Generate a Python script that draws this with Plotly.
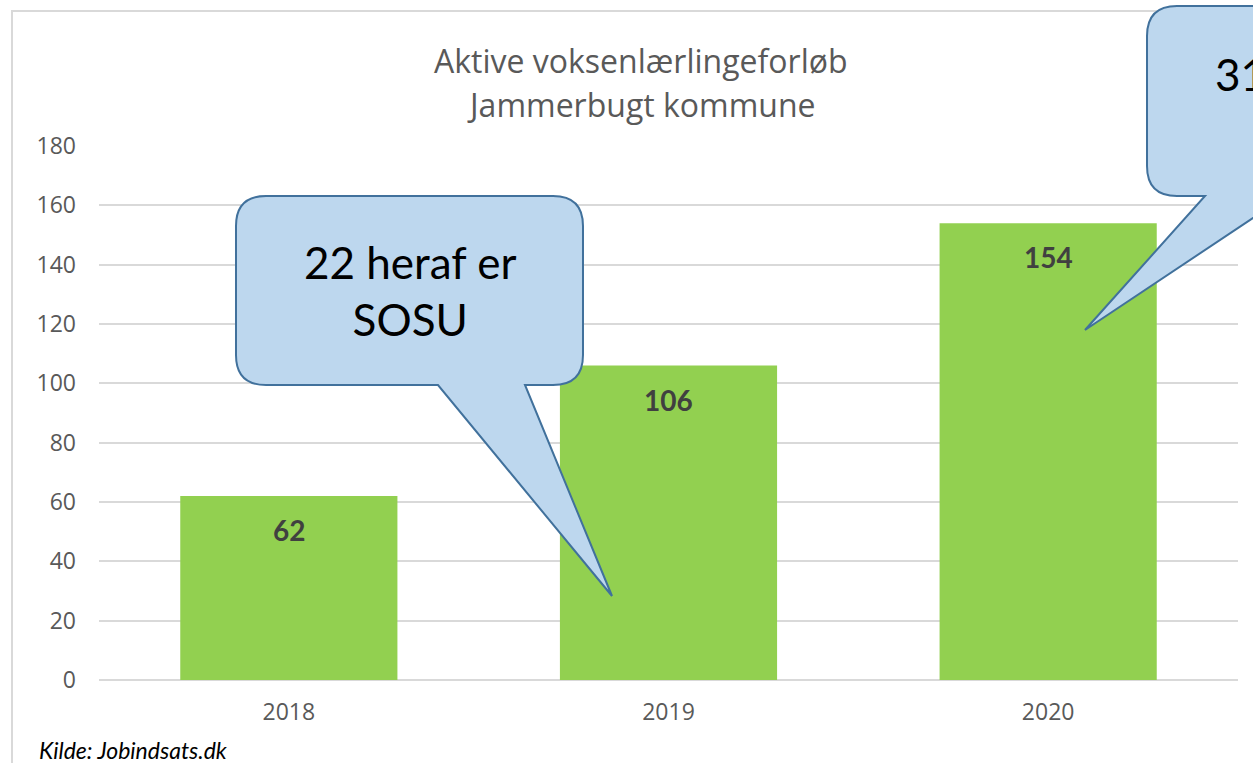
import plotly.graph_objects as go

years = ["2018", "2019", "2020"]
values = [62, 106, 154]
y_ticks = [0, 20, 40, 60, 80, 100, 120, 140, 160, 180]
title_lines = ["Aktive voksenlærlingeforløb", "Jammerbugt kommune"]
callout_texts = ["22 heraf er<br>SOSU", "31 heraf er"]
source_text = "Kilde: Jobindsats.dk"

W, H = 1253, 763
L, R, T, B = 99, 1238, 146, 680
FONT = "Lato"
TFONT = "Open Sans"


def px(x):
    return (x - L) / (R - L)


def py(y):
    return (B - y) / (B - T)


def path(points_cmds):
    out = []
    for cmd, pts in points_cmds:
        coords = " ".join(f"{px(x):.5f},{py(y):.5f}" for x, y in pts)
        out.append(f"{cmd} {coords}")
    return " ".join(out) + " Z"


fig = go.Figure()
fig.add_trace(go.Bar(
    x=years, y=values, marker=dict(color="#92d050", line=dict(width=0)),
    width=0.572, hoverinfo="skip",
))

# data labels
for i, v in enumerate(values):
    fig.add_annotation(x=i, y=v, xref="x", yref="y", text=f"<b>{v}</b>",
                       showarrow=False, yshift=-34, xanchor="center", yanchor="middle",
                       font=dict(family=FONT, size=28, color="#404040"))

# chart border
fig.add_shape(type="rect", xref="paper", yref="paper",
              x0=px(12), x1=px(1400), y0=py(11), y1=py(900),
              line=dict(color="#d9d9d9", width=2), fillcolor="rgba(0,0,0,0)", layer="below")

# callout 1
r = 30
x0, x1, y0, y1 = 236, 583, 196, 385
p1 = path([
    ("M", [(x0 + r, y0)]), ("L", [(x1 - r, y0)]), ("Q", [(x1, y0), (x1, y0 + r)]),
    ("L", [(x1, y1 - r)]), ("Q", [(x1, y1), (x1 - r, y1)]),
    ("L", [(525, y1)]), ("L", [(612, 596)]), ("L", [(438, y1)]),
    ("L", [(x0 + r, y1)]), ("Q", [(x0, y1), (x0, y1 - r)]),
    ("L", [(x0, y0 + r)]), ("Q", [(x0, y0), (x0 + r, y0)]),
])
fig.add_shape(type="path", path=p1, xref="paper", yref="paper",
              fillcolor="#bdd7ee", line=dict(color="#41719c", width=2))

# callout 2
x0, x1, y0, y1 = 1147, 1500, 6, 196
p2 = path([
    ("M", [(x0 + r, y0)]), ("L", [(x1, y0)]), ("L", [(x1, y1)]),
    ("L", [(1286, y1)]), ("L", [(1085, 330)]), ("L", [(1205, y1)]),
    ("L", [(x0 + r, y1)]), ("Q", [(x0, y1), (x0, y1 - r)]),
    ("L", [(x0, y0 + r)]), ("Q", [(x0, y0), (x0 + r, y0)]),
])
fig.add_shape(type="path", path=p2, xref="paper", yref="paper",
              fillcolor="#bdd7ee", line=dict(color="#41719c", width=2))

fig.add_annotation(x=px(410), y=py(290), xref="paper", yref="paper",
                   text=callout_texts[0], showarrow=False, align="center",
                   xanchor="center", yanchor="middle",
                   font=dict(family=FONT, size=44, color="#000000"))
fig.add_annotation(x=px(1213), y=py(74), xref="paper", yref="paper",
                   text=callout_texts[1], showarrow=False, xanchor="left",
                   yanchor="middle",
                   font=dict(family=FONT, size=44, color="#000000"))

# title
for line, yy in zip(title_lines, [60, 104]):
    fig.add_annotation(x=px(641), y=py(yy), xref="paper", yref="paper",
                       text=line, showarrow=False, xanchor="center", yanchor="middle",
                       font=dict(family=TFONT, size=32, color="#595959"))

# source
fig.add_annotation(x=px(37), y=py(750), xref="paper", yref="paper",
                   text=f"<i>{source_text}</i>", showarrow=False, xanchor="left",
                   yanchor="middle",
                   font=dict(family=FONT, size=23, color="#000000"))

fig.update_layout(
    width=W, height=H,
    margin=dict(l=L, r=W - R, t=T, b=H - B),
    plot_bgcolor="white", paper_bgcolor="white",
    showlegend=False, bargap=0.428,
    font=dict(family=TFONT, color="#595959"),
    xaxis=dict(type="category", showgrid=False, showline=False, zeroline=False,
               ticks="", tickfont=dict(size=23, color="#595959"),
               ticklabelstandoff=16, range=[-0.5, 2.5], fixedrange=True),
    yaxis=dict(range=[0, 180], tickvals=y_ticks, showgrid=True,
               gridcolor="#d9d9d9", gridwidth=2, zeroline=True,
               zerolinecolor="#d9d9d9", zerolinewidth=2, showline=False,
               ticks="", tickfont=dict(size=23, color="#595959"),
               ticklabelstandoff=22, fixedrange=True),
)

fig.write_html("out.html")
